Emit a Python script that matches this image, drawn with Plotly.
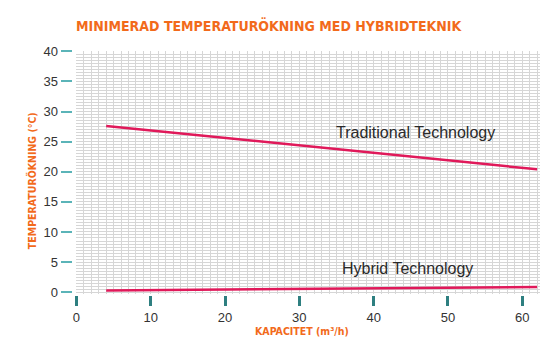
import plotly.graph_objects as go

# Data
capacity = [4, 62]
traditional = [27.6, 20.4]
hybrid = [0.3, 0.85]
x_ticks = [0, 10, 20, 30, 40, 50, 60]
y_ticks = [0, 5, 10, 15, 20, 25, 30, 35, 40]

title_text = "MINIMERAD TEMPERATURÖKNING MED HYBRIDTEKNIK"
x_title = "KAPACITET (m³/h)"
y_title = "TEMPERATURÖKNING (°C)"

W, H = 550, 352
LINE = "#E0195A"
ORANGE = "#F26A1B"
GRID = "#D6D6D6"
COND = "DejaVu Sans Condensed, Liberation Sans Narrow, Liberation Sans"

fig = go.Figure()
fig.add_trace(go.Scatter(x=capacity, y=traditional, mode="lines",
                         line=dict(color=LINE, width=2.5), showlegend=False))
fig.add_trace(go.Scatter(x=capacity, y=hybrid, mode="lines",
                         line=dict(color=LINE, width=2.5), showlegend=False))

fig.add_annotation(x=45.7, y=26.6, text="Traditional Technology", showarrow=False,
                   font=dict(family="Liberation Sans, Arial", size=16, color="#2a2a2a"))
fig.add_annotation(x=44.5, y=3.9, text="Hybrid Technology", showarrow=False,
                   font=dict(family="Liberation Sans, Arial", size=16, color="#2a2a2a"))

# titles
fig.add_annotation(xref="paper", yref="paper", x=71 / W, y=1 - 19 / H, xanchor="left",
                   yanchor="middle", text="<b>" + title_text + "</b>", showarrow=False,
                   font=dict(family=COND, size=14, color=ORANGE))
fig.add_annotation(xref="paper", yref="paper", x=300 / W, y=1 - 336 / H, xanchor="center",
                   yanchor="middle", text="<b>" + x_title + "</b>", showarrow=False,
                   font=dict(family=COND, size=10.5, color=ORANGE))
fig.add_annotation(xref="paper", yref="paper", x=28 / W, y=1 - 180 / H, xanchor="center",
                   yanchor="middle", text="<b>" + y_title + "</b>", showarrow=False, textangle=-90,
                   font=dict(family=COND, size=10.5, color=ORANGE))

fig.update_layout(
    width=W, height=H,
    margin=dict(l=0, r=0, t=0, b=0),
    paper_bgcolor="white", plot_bgcolor="white",
    xaxis=dict(
        domain=[73 / W, 540 / W], range=[0, 62.4],
        anchor="free", position=1 - 299 / H,
        tickvals=x_ticks, ticks="outside", ticklen=10, tickwidth=2.5, tickcolor="#2E7F80",
        showgrid=True, gridcolor=GRID, gridwidth=1,
        minor=dict(dtick=1, tick0=0, showgrid=True, gridcolor=GRID, gridwidth=1),
        zeroline=False, showline=False,
        tickfont=dict(family="Liberation Sans, Arial", size=13, color="#333333"),
    ),
    yaxis=dict(
        domain=[1 - 298 / H, 1 - 46 / H], range=[-0.3, 40],
        anchor="free", position=68 / W,
        tickvals=y_ticks, ticks="outside", ticklen=11, tickwidth=1.5, tickcolor="#5BB4B8",
        showgrid=True, gridcolor=GRID, gridwidth=1,
        minor=dict(dtick=0.5, tick0=0, showgrid=True, gridcolor=GRID, gridwidth=1),
        zeroline=False, showline=False,
        tickfont=dict(family="Liberation Sans, Arial", size=13, color="#333333"),
    ),
)

fig.write_html("out.html")
